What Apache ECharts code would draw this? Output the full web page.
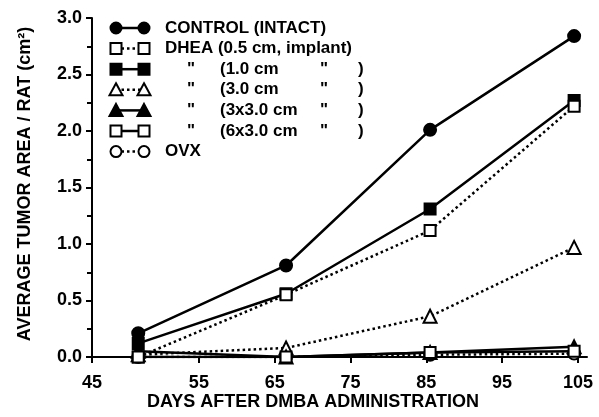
<!DOCTYPE html>
<html>
<head>
    <title>Tumor area</title>
    <script src="https://cdn.jsdelivr.net/npm/echarts@6/dist/echarts.min.js"></script>
</head>
<body style="margin:0; background:#fff;">
    <div id="chart" style="width: 599px; height: 417px;"></div>
    <script>
        // days after DMBA, as placed on the (stretched) axis of the figure
        var days = [47, 66.5, 85.5, 104.5];
        var control = [0.21, 0.81, 2.01, 2.84];
        var dhea05 = [0.0, 0.55, 1.12, 2.22];
        var dhea10 = [0.12, 0.56, 1.31, 2.27];
        var dhea30 = [0.02, 0.08, 0.36, 0.97];
        var dhea3x30 = [0.05, 0.0, 0.04, 0.09];
        var dhea6x30 = [0.0, 0.0, 0.04, 0.05];
        var ovx = [0.0, 0.0, 0.02, 0.03];
        var xTicks = [40.9, 55, 65, 75, 85, 95, 105];
        var xTickText = ['45', '55', '65', '75', '85', '95', '105'];

        // legend text, split in columns like the figure
        var legendRows = [
            ['CONTROL (INTACT)'],
            ['DHEA (0.5 cm, implant)'],
            ['"', '(1.0 cm', '"', ')'],
            ['"', '(3.0 cm', '"', ')'],
            ['"', '(3x3.0 cm', '"', ')'],
            ['"', '(6x3.0 cm', '"', ')'],
            ['OVX']
        ];

        var FONT = '"Liberation Sans", Arial, Helvetica, sans-serif';

        // symbol, filled, dotted line, drawing order
        var styles = [
            ['circle', true, false, 6],
            ['rect', false, true, 5],
            ['rect', true, false, 4],
            ['triangle', false, true, 2],
            ['triangle', true, false, 3],
            ['rect', false, false, 7],
            ['circle', false, true, 1]
        ];
        var values = [control, dhea05, dhea10, dhea30, dhea3x30, dhea6x30, ovx];

        function makeSeries(vals, st) {
            return {
                type: 'line',
                data: vals.map((v, k) => [days[k], v]),
                symbol: st[0],
                symbolSize: st[0] == 'circle' ? 12 : (st[0] == 'triangle' ? 13 : 11),
                z: 10 + st[3],
                lineStyle: {color: '#000', width: 2.5, type: st[2] ? [2.5, 3] : 'solid'},
                itemStyle: {color: st[1] ? '#000' : '#fff', borderColor: '#000', borderWidth: 2, opacity: 1}
            };
        }

        function marker(st, cx, cy) {
            var fill = st[1] ? '#000' : '#fff';
            var style = {fill: fill, stroke: '#000', lineWidth: 2};
            if (st[0] == 'circle') return {type: 'circle', shape: {cx: cx, cy: cy, r: 5.5}, style: style, z: 101};
            if (st[0] == 'rect') return {type: 'rect', shape: {x: cx - 5.5, y: cy - 5.5, width: 11, height: 11}, style: style, z: 101};
            return {type: 'polygon', shape: {points: [[cx, cy - 6.5], [cx + 6.5, cy + 5.5], [cx - 6.5, cy + 5.5]]}, style: style, z: 101};
        }

        var graphics = [];
        var colX = [187, 220, 320, 358];
        legendRows.forEach((row, i) => {
            var y = 28 + 20.6 * i;
            var st = styles[i];
            graphics.push({type: 'line', shape: {x1: 116, y1: y, x2: 144, y2: y},
                style: {stroke: '#000', lineWidth: 2.5, lineDash: st[2] ? [2.5, 3] : null}, z: 100});
            graphics.push(marker(st, 116, y));
            graphics.push(marker(st, 144, y));
            row.forEach((t, j) => {
                graphics.push({type: 'text', z: 102, style: {
                    x: row.length == 1 ? 165 : colX[j], y: y, text: t,
                    font: 'bold 17px ' + FONT, fill: '#000', verticalAlign: 'middle'
                }});
            });
        });
        // axis titles
        graphics.push({type: 'text', style: {x: 313, y: 402, text: 'DAYS AFTER DMBA ADMINISTRATION',
            font: 'bold 18px ' + FONT, fill: '#000', align: 'center', verticalAlign: 'middle'}});
        graphics.push({type: 'text', rotation: Math.PI / 2, x: 25, y: 184, style: {x: 0, y: 0,
            text: 'AVERAGE TUMOR AREA / RAT (cm\u00b2)',
            font: 'bold 18px ' + FONT, fill: '#000', align: 'center', verticalAlign: 'middle'}});

        var chart = echarts.init(document.getElementById('chart'));
        chart.setOption({
            animation: false,
            grid: {left: 92, right: 12, top: 18, bottom: 60},
            xAxis: {
                type: 'value', min: 40.9, max: 106.2,
                splitLine: {show: false},
                axisLine: {lineStyle: {color: '#000', width: 2}},
                axisTick: {customValues: xTicks, length: 6, lineStyle: {color: '#000', width: 2}},
                axisLabel: {customValues: xTicks, margin: 11, color: '#000',
                    fontSize: 18, fontWeight: 'bold', fontFamily: FONT,
                    formatter: v => xTickText[xTicks.indexOf(v)]}
            },
            yAxis: {
                type: 'value', min: 0, max: 3, interval: 0.5,
                splitLine: {show: false},
                axisLine: {show: true, lineStyle: {color: '#000', width: 2}},
                axisTick: {show: true, length: 6, lineStyle: {color: '#000', width: 2}},
                minorTick: {show: true, splitNumber: 2, length: 5, lineStyle: {color: '#000', width: 2}},
                axisLabel: {margin: 10, color: '#000', fontSize: 18, fontWeight: 'bold', fontFamily: FONT,
                    formatter: v => v.toFixed(1)}
            },
            graphic: graphics,
            series: values.map((v, i) => makeSeries(v, styles[i]))
        });
    </script>
</body>
</html>
